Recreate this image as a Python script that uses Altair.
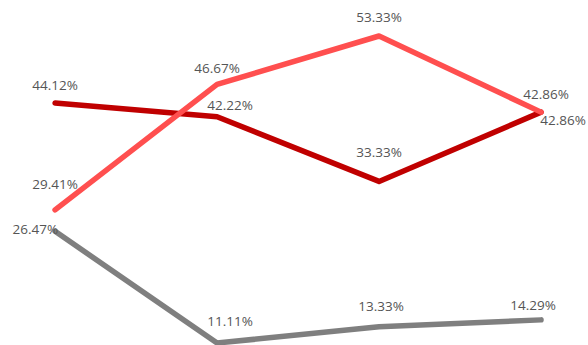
import altair as alt
import pandas as pd

positions = [0, 1, 2, 3]
series_names = ["A", "B", "C"]
series_a = [44.12, 42.22, 33.33, 42.86]   # dark red
series_b = [29.41, 46.67, 53.33, 42.86]   # light red
series_c = [26.47, 11.11, 13.33, 14.29]   # gray
colors = ["#C00000", "#FF4F4F", "#7F7F7F"]

rows = []
for name, vals in zip(series_names, [series_a, series_b, series_c]):
    for p, v in zip(positions, vals):
        rows.append({"series": name, "pos": p, "value": v,
                     "label": f"{v:.2f}%", "key": f"{name}{p}"})
df = pd.DataFrame(rows)

# label placement (styling only): key -> (dx, dy, align)
label_style = {
    "A0": (0, -17, "center"), "A1": (13, -11, "center"), "A2": (0, -28, "center"), "A3": (22, 9, "center"),
    "B0": (0, -25, "center"), "B1": (0, -15, "center"), "B2": (0, -18, "center"), "B3": (5, -17, "center"),
    "C0": (3, -1, "right"), "C1": (13, -21, "center"), "C2": (2, -20, "center"), "C3": (-8, -14, "center"),
}

xs = alt.Scale(domain=[-0.34, 3.29], nice=False, zero=False)
ys = alt.Scale(domain=[10.835, 58.28], nice=False, zero=False)
cs = alt.Scale(domain=series_names, range=colors)

lines = alt.Chart(df).mark_line(strokeWidth=5.5, strokeCap="round", strokeJoin="round", clip=False).encode(
    x=alt.X("pos:Q", scale=xs, axis=None),
    y=alt.Y("value:Q", scale=ys, axis=None),
    color=alt.Color("series:N", scale=cs, legend=None),
    detail="series:N",
)

text_layers = []
for k, (dx, dy, al) in label_style.items():
    text_layers.append(
        alt.Chart(df).transform_filter(alt.datum.key == k).mark_text(
            dx=dx, dy=dy, align=al, baseline="middle",
            font="Open Sans", fontSize=13.5, color="#555555"
        ).encode(
            x=alt.X("pos:Q", scale=xs, axis=None),
            y=alt.Y("value:Q", scale=ys, axis=None),
            text="label:N",
        )
    )

chart = alt.layer(lines, *text_layers).properties(
    width=588, height=345, padding=0, autosize=alt.AutoSizeParams(type="none")
).configure_view(stroke=None)

chart.save("out.html", embed_options={"renderer": "svg", "actions": False})
